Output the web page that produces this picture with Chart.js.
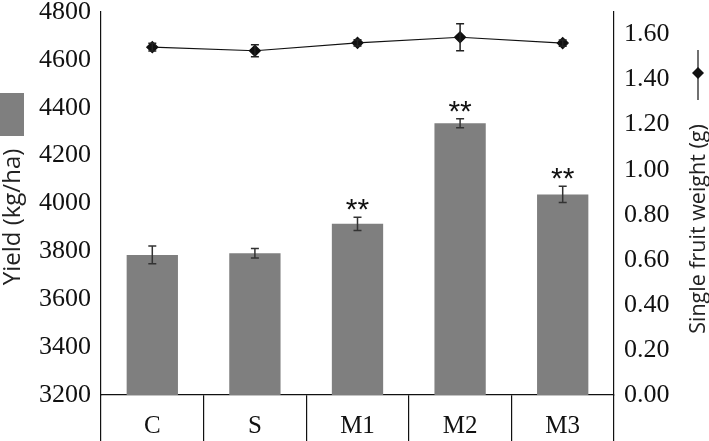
<!DOCTYPE html>
<html>
<head>
<meta charset="utf-8">
<script src="https://cdn.jsdelivr.net/npm/chart.js@4"></script>
<style>
  html, body { margin: 0; padding: 0; background: #fff; }
  #wrap { width: 709px; height: 441px; }
</style>
</head>
<body>
<div id="wrap"><canvas id="yieldChart" width="709" height="441"></canvas></div>
<script>
// data
const treatments = ['C', 'S', 'M1', 'M2', 'M3'];
const yieldMeans = [3785, 3792, 3915, 4335, 4038];
const yieldErrors = [37, 20, 28, 19, 34];
const yieldMarks = ['', '', '**', '**', '**'];
const fruitWeight = [1.544, 1.528, 1.563, 1.588, 1.562];
const fruitWeightErrors = [0.017, 0.027, 0.014, 0.060, 0.014];

const serif = 'Liberation Serif';
const sans = 'Open Sans';

// error bars + significance stars
const errorBars = {
  id: 'errorBars',
  afterDatasetsDraw(chart) {
    const ctx = chart.ctx;
    const sets = [
      { idx: 0, scale: chart.scales.yLeft, vals: yieldMeans, errs: yieldErrors, color: '#333' },
      { idx: 1, scale: chart.scales.yRight, vals: fruitWeight, errs: fruitWeightErrors, color: '#222' }
    ];
    ctx.save();
    sets.forEach(s => {
      const meta = chart.getDatasetMeta(s.idx);
      meta.data.forEach((el, i) => {
        const x = el.x;
        const yTop = s.scale.getPixelForValue(s.vals[i] + s.errs[i]);
        const yBot = s.scale.getPixelForValue(s.vals[i] - s.errs[i]);
        ctx.strokeStyle = s.color;
        ctx.lineWidth = 1.5;
        ctx.beginPath();
        ctx.moveTo(x, yTop); ctx.lineTo(x, yBot);
        ctx.moveTo(x - 4, yTop); ctx.lineTo(x + 4, yTop);
        ctx.moveTo(x - 4, yBot); ctx.lineTo(x + 4, yBot);
        ctx.stroke();
        if (s.idx === 0 && yieldMarks[i]) {
          ctx.fillStyle = '#111';
          ctx.font = '30px "Liberation Sans"';
          ctx.textAlign = 'center';
          ctx.textBaseline = 'alphabetic';
          ctx.fillText(yieldMarks[i], x, yTop + 2);
        }
      });
    });
    ctx.restore();
  }
};

// side legends with rotated labels
const sideLegends = {
  id: 'sideLegends',
  afterDraw(chart) {
    const ctx = chart.ctx;
    const ds = chart.data.datasets;
    ctx.save();
    // left: bar swatch + label
    ctx.fillStyle = ds[0].backgroundColor;
    ctx.fillRect(0, 93, 24, 43);
    ctx.fillStyle = '#222';
    ctx.font = '24px "' + sans + '"';
    ctx.textAlign = 'center';
    ctx.textBaseline = 'middle';
    ctx.translate(13, 217);
    ctx.rotate(-Math.PI / 2);
    ctx.fillText(ds[0].label, 0, 0);
    ctx.restore();

    ctx.save();
    // right: line marker + label
    ctx.strokeStyle = '#111';
    ctx.lineWidth = 1.2;
    ctx.beginPath();
    ctx.moveTo(698, 50); ctx.lineTo(698, 100);
    ctx.stroke();
    ctx.fillStyle = '#111';
    ctx.beginPath();
    ctx.moveTo(698, 67); ctx.lineTo(704, 73); ctx.lineTo(698, 79); ctx.lineTo(692, 73);
    ctx.closePath();
    ctx.fill();
    ctx.fillStyle = '#222';
    ctx.font = '21.5px "' + sans + '"';
    ctx.textAlign = 'center';
    ctx.textBaseline = 'middle';
    ctx.translate(699, 229);
    ctx.rotate(-Math.PI / 2);
    ctx.fillText(ds[1].label, 0, 0);
    ctx.restore();
  }
};

// keep the plot area close to the top edge like the original
const fitSide = (w) => (scale) => {
  scale.width = w;
  scale.paddingTop = 12;
};

const config = {
  type: 'bar',
  data: {
    labels: treatments,
    datasets: [{
      type: 'bar',
      label: 'Yield (kg/ha)',
      data: yieldMeans,
      backgroundColor: '#7f7f7f',
      yAxisID: 'yLeft',
      barPercentage: 0.5,
      categoryPercentage: 1.0,
      order: 1
    }, {
      type: 'line',
      label: 'Single fruit weight (g)',
      data: fruitWeight,
      borderColor: '#111',
      borderWidth: 1.2,
      backgroundColor: '#111',
      pointStyle: 'rectRot',
      pointRadius: 5.5,
      pointBackgroundColor: '#111',
      pointBorderColor: '#111',
      tension: 0,
      yAxisID: 'yRight',
      order: 0
    }]
  },
  options: {
    responsive: false,
    animation: false,
    devicePixelRatio: 1,
    plugins: {
      legend: { display: false },
      tooltip: { enabled: false }
    },
    scales: {
      x: {
        grid: {
          offset: true,
          drawOnChartArea: false,
          drawTicks: true,
          tickLength: 46,
          color: '#111',
          tickColor: '#111',
          lineWidth: 1.2
        },
        border: { display: true, color: '#111', width: 1.2 },
        ticks: {
          color: '#111',
          padding: -30,
          font: { family: serif, size: 25 }
        },
        afterFit: (scale) => { scale.height = 46; }
      },
      yLeft: {
        position: 'left',
        min: 3200,
        max: 4800,
        ticks: {
          stepSize: 200,
          color: '#111',
          padding: 10,
          font: { family: serif, size: 26, lineHeight: 0.75 },
          callback: (v) => String(v)
        },
        grid: { drawOnChartArea: false, drawTicks: false },
        border: { display: true, color: '#111', width: 1.2 },
        afterFit: fitSide(101)
      },
      yRight: {
        position: 'right',
        min: 0,
        max: 1.70,
        ticks: {
          stepSize: 0.2,
          includeBounds: false,
          color: '#111',
          padding: 10,
          font: { family: serif, size: 26, lineHeight: 0.75 },
          callback: (v) => Number(v).toFixed(2)
        },
        grid: { drawOnChartArea: false, drawTicks: false },
        border: { display: true, color: '#111', width: 1.2 },
        afterFit: fitSide(95)
      }
    }
  },
  plugins: [errorBars, sideLegends]
};

window.addEventListener('DOMContentLoaded', () => {
  const ctx = document.getElementById('yieldChart').getContext('2d');
  new Chart(ctx, config);
});
</script>
</body>
</html>
